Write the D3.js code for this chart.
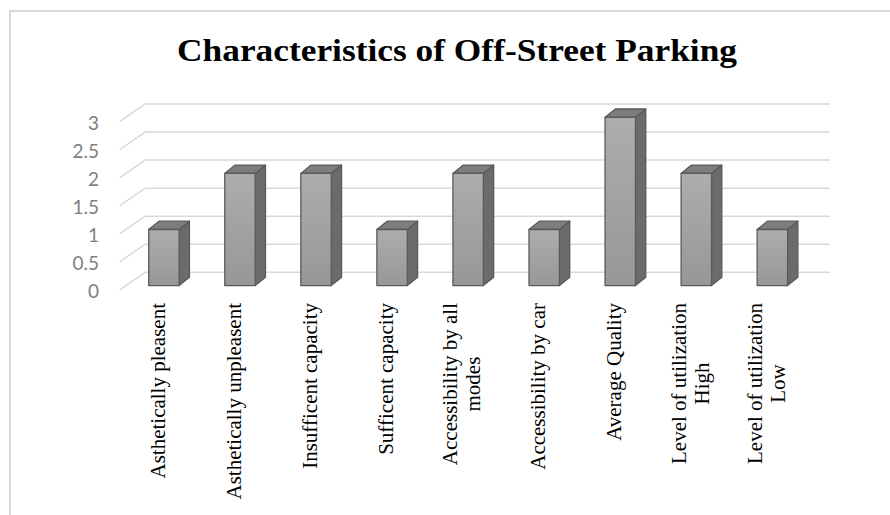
<!DOCTYPE html>
<html>
<head>
<meta charset="utf-8">
<script src="https://cdn.jsdelivr.net/npm/d3@7"></script>
<style>
  html, body { margin: 0; padding: 0; background: #ffffff; }
  svg { display: block; }
</style>
</head>
<body>
<svg id="chart" width="890" height="515"></svg>
<script>
// Chart data
const titleText = "Characteristics of Off-Street Parking";
const categories = [
  "Asthetically pleasent",
  "Asthetically unpleasent",
  "Insufficent capacity",
  "Sufficent capacity",
  "Accessibility by all\nmodes",
  "Accessibility by car",
  "Average Quality",
  "Level of utilization\nHigh",
  "Level of utilization\nLow"
];
const values = [1, 2, 2, 1, 2, 1, 3, 2, 1];
const yTicks = [0, 0.5, 1, 1.5, 2, 2.5, 3];

const svg = d3.select("#chart");

// Outer chart frame
svg.append("path")
  .attr("d", "M10,520 L10,11 L895,11")
  .attr("fill", "none")
  .attr("stroke", "#d9d9d9")
  .attr("stroke-width", 2);

// Title
svg.append("text")
  .attr("x", 177)
  .attr("y", 61)
  .attr("textLength", 560)
  .attr("lengthAdjust", "spacingAndGlyphs")
  .style("font-family", "'Liberation Serif', 'Times New Roman', serif")
  .style("font-weight", "bold")
  .style("font-size", "31px")
  .attr("fill", "#000")
  .text(titleText);

// Front plane scales (3D floor/wall projection adds a depth offset)
const x = d3.scaleBand().domain(categories).range([119.5, 804]).padding(0);
const y = d3.scaleLinear().domain([0, 3]).range([290, 121.7]);
const DX = 25.7, DY = -17.7;          // full depth of the plot box
const FX = 6.4, FY = -4.4;            // depth position of the bar front faces
const BDX = 10.3, BDY = -8.3;         // depth of each bar
const barW = x.bandwidth() * 0.4;

// Gridlines: diagonal on the side wall, horizontal on the back wall
const grid = svg.append("g")
  .attr("fill", "none")
  .attr("stroke", "#d9d9d9")
  .attr("stroke-width", 1.5);
yTicks.forEach(v => {
  const yf = y(v);
  const x0 = x.range()[0], x1 = x.range()[1];
  grid.append("path")
    .attr("d", `M${x0},${yf} L${x0 + DX},${yf + DY} L${x1 + DX},${yf + DY}`);
});

// Y axis labels
const yAxis = d3.axisLeft(y).tickValues(yTicks).tickSize(0).tickPadding(0)
  .tickFormat(d3.format("~g"));
const yg = svg.append("g")
  .attr("transform", "translate(99,1.5)")
  .call(yAxis);
yg.select(".domain").remove();
yg.selectAll("text")
  .style("font-family", "Lato, 'Open Sans', sans-serif")
  .style("font-size", "19px")
  .attr("fill", "#808080");

// Bar gradient
const defs = svg.append("defs");
const grad = defs.append("linearGradient")
  .attr("id", "frontGrad")
  .attr("x1", 0).attr("y1", 0).attr("x2", 0).attr("y2", 1);
grad.append("stop").attr("offset", 0).attr("stop-color", "#adadad");
grad.append("stop").attr("offset", 1).attr("stop-color", "#979797");

// 3D bars
const bars = svg.append("g")
  .attr("stroke", "#5a5a5a")
  .attr("stroke-width", 1.3)
  .attr("stroke-linejoin", "round");
categories.forEach((c, i) => {
  const left = x(c) + x.bandwidth() / 2 - barW / 2 + FX;
  const right = left + barW;
  const bottom = y(0) + FY;
  const top = y(values[i]) + FY;
  const g = bars.append("g");
  // side face
  g.append("path")
    .attr("d", `M${right},${bottom} L${right + BDX},${bottom + BDY} L${right + BDX},${top + BDY} L${right},${top} Z`)
    .attr("fill", "#6b6b6b");
  // top face
  g.append("path")
    .attr("d", `M${left},${top} L${left + BDX},${top + BDY} L${right + BDX},${top + BDY} L${right},${top} Z`)
    .attr("fill", "#7d7d7d");
  // front face
  g.append("rect")
    .attr("x", left).attr("y", top)
    .attr("width", barW).attr("height", bottom - top)
    .attr("fill", "url(#frontGrad)");
});

// Category labels, rotated, centred line by line
const labelTop = 303;
const lineGap = 23;
const labels = svg.append("g")
  .style("font-family", "'Liberation Serif', 'Times New Roman', serif")
  .style("font-size", "21px")
  .attr("fill", "#000");
categories.forEach(c => {
  const lines = c.split("\n");
  const cx = x(c) + x.bandwidth() / 2;
  const g = labels.append("g");
  const texts = lines.map((ln, k) => g.append("text")
    .attr("text-anchor", "middle")
    .attr("dy", "0.34em")
    .text(ln));
  const maxLen = d3.max(texts, t => t.node().getComputedTextLength());
  texts.forEach((t, k) => {
    const off = (k - (lines.length - 1) / 2) * lineGap;
    t.attr("x", -maxLen / 2).attr("y", off);
  });
  g.attr("transform", `translate(${cx},${labelTop}) rotate(-90)`);
});
</script>
</body>
</html>
